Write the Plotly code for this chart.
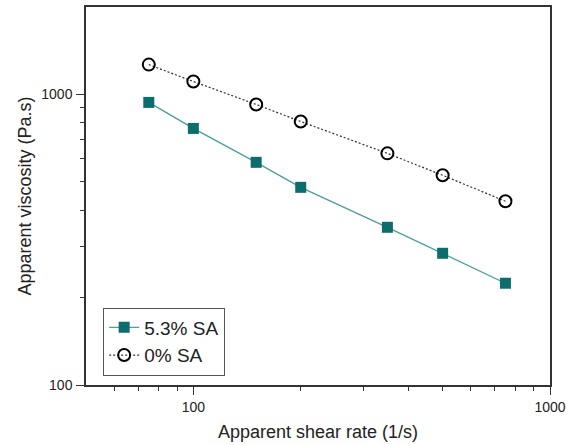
import plotly.graph_objects as go

shear_rate = [75, 100, 150, 200, 350, 500, 750]
visc_53SA = [939, 764, 584, 479, 349, 284, 224]
visc_0SA = [1267, 1108, 924, 807, 627, 527, 429]

x_minor = [60, 70, 80, 90, 200, 300, 400, 500, 600, 700, 800, 900]
y_minor = [200, 300, 400, 500, 600, 700, 800, 900]

fig = go.Figure()
fig.add_trace(go.Scatter(
    x=shear_rate, y=visc_53SA, name="5.3% SA", mode="lines+markers",
    line=dict(color="#4A9E9A", width=1.3),
    marker=dict(symbol="square", size=11, color="#0B6E6C", line=dict(width=0)),
))
fig.add_trace(go.Scatter(
    x=shear_rate, y=visc_0SA, name="0% SA", mode="lines+markers",
    line=dict(color="#333333", width=1.2, dash="2px,2px"),
    marker=dict(symbol="circle-open", size=12, color="black", line=dict(width=2, color="black")),
))

axis_common = dict(
    type="log", showgrid=False, zeroline=False, showline=True, mirror=True,
    linecolor="#333333", linewidth=1.5, ticks="outside", ticklen=8, tickwidth=1.3,
    tickcolor="#333333", tickfont=dict(family="Liberation Sans, Arial", size=14, color="#222"),
    automargin=False,
)

fig.update_xaxes(
    **axis_common, range=[1.69897, 3], tickvals=[100, 1000], ticktext=["100", "1000"],
    minor=dict(ticks="outside", ticklen=4, tickwidth=1.3, tickcolor="#333333", tickvals=x_minor, showgrid=False),
    title=dict(text="Apparent shear rate (1/s)", font=dict(family="Liberation Sans, Arial", size=18, color="#222"), standoff=12),
)
fig.update_yaxes(
    **axis_common, range=[2, 3.30103], tickvals=[100, 1000], ticktext=["100", "1000"],
    minor=dict(ticks="outside", ticklen=4, tickwidth=1.3, tickcolor="#333333", tickvals=y_minor, showgrid=False),
    ticklabelstandoff=1,
    title=dict(text="Apparent viscosity (Pa.s)", font=dict(family="Liberation Sans, Arial", size=18, color="#222"), standoff=5),
)

fig.update_layout(
    width=568, height=445,
    margin=dict(l=86, r=18, t=7, b=60),
    plot_bgcolor="white", paper_bgcolor="white",
    showlegend=True,
    legend=dict(
        x=0.037, y=0.205, xanchor="left", yanchor="top",
        bordercolor="#555555", borderwidth=1, bgcolor="white",
        font=dict(family="Liberation Sans, Arial", size=19, color="#222"),
        tracegroupgap=0, itemwidth=30,
    ),
)

fig.write_html(
    "out.html",
    config={"displayModeBar": False},
    post_script="document.body.style.margin='0';document.body.style.overflow='hidden';",
)
